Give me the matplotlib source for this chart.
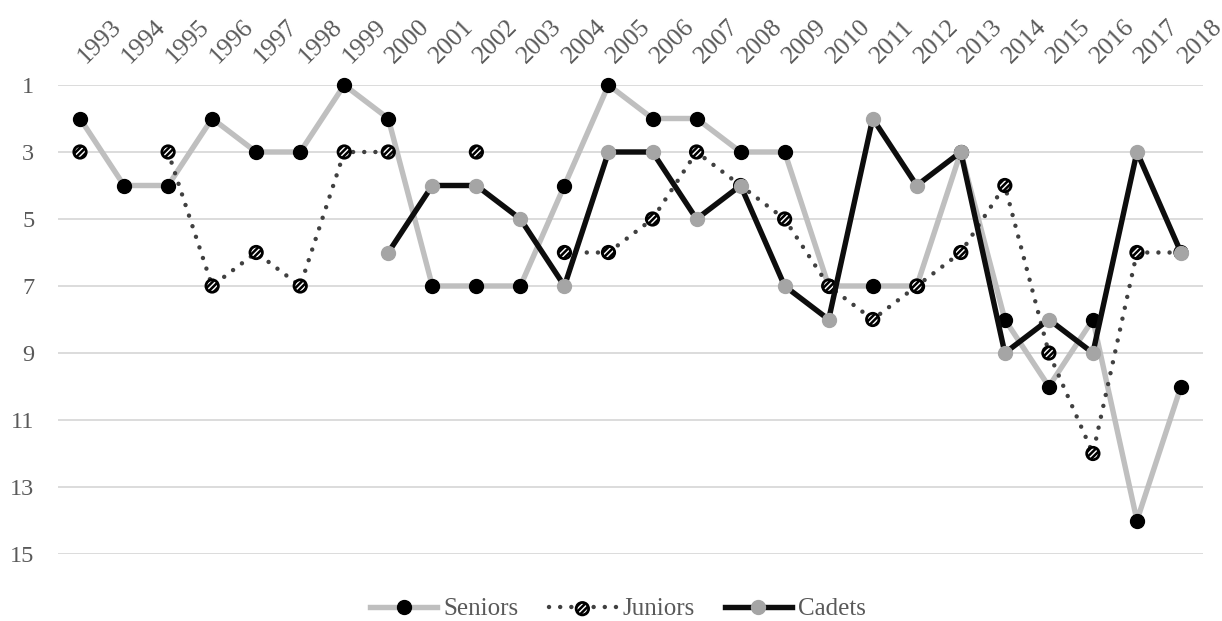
import numpy as np
from matplotlib import pyplot as plt
from matplotlib.transforms import ScaledTranslation
from matplotlib.legend_handler import HandlerTuple

plt.rcParams['font.family'] = ['Liberation Serif', 'DejaVu Serif']
plt.rcParams['hatch.color'] = 'black'
plt.rcParams['hatch.linewidth'] = 1.8

nan = np.nan
years = list(range(1993, 2019))
seniors = [2, 4, 4, 2, 3, 3, 1, 2, 7, 7, 7, 4, 1, 2, 2, 3, 3, 7, 7, 7, 3, 8, 10, 8, 14, 10]
juniors = [3, nan, 3, 7, 6, 7, 3, 3, nan, 3, nan, 6, 6, 5, 3, 4, 5, 7, 8, 7, 6, 4, 9, 12, 6, 6]
cadets = [nan] * 7 + [6, 4, 4, 5, 7, 3, 3, 5, 4, 7, 8, 2, 4, 3, 9, 8, 9, 3, 6]
yticks = [1, 3, 5, 7, 9, 11, 13, 15]


def main():
    x = np.arange(len(years))

    fig = plt.figure(figsize=(12.22, 6.21), dpi=100)
    ax = fig.add_axes([58 / 1222, 1 - 554 / 621, (1203 - 58) / 1222, (554 - 85) / 621])

    ln_sen, = ax.plot(x, seniors, color='#BFBFBF', lw=3.9, marker='o', ms=10,
                      mfc='black', mec='black', clip_on=False, zorder=3)
    ln_jun, = ax.plot(x, juniors, color='#404040', lw=3.2, linestyle=(0, (0.01, 2.5)),
                      dash_capstyle='round', clip_on=False, zorder=4)
    sc_jun = ax.scatter(x, juniors, s=80, facecolor='white', edgecolor='black',
                        hatch='//////', linewidths=2.0, clip_on=False, zorder=5)
    ln_cad, = ax.plot(x, cadets, color='#0D0D0D', lw=3.9, marker='o', ms=10,
                      mfc='#A5A5A5', mec='#A5A5A5', clip_on=False, zorder=6)

    ax.set_xlim(-0.5, len(years) - 0.5)
    ax.set_ylim(15, 1)
    ax.set_yticks(yticks)
    ax.set_xticks([])
    ax.grid(axis='y', color='#D9D9D9', lw=1.3)
    ax.set_axisbelow(True)
    for s in ax.spines.values():
        s.set_visible(False)
    ax.tick_params(axis='y', length=0, pad=17, labelsize=17.5, labelcolor='#595959')

    # year labels along the top, rotated 45 degrees
    trans = ax.get_xaxis_transform() + ScaledTranslation(0.095, 0.17, fig.dpi_scale_trans)
    for xi, yr in zip(x, years):
        ax.text(xi, 1.0, str(yr), transform=trans, rotation=45, rotation_mode='anchor',
                ha='left', va='bottom', fontsize=18.5, color='#595959')

    fig.legend([ln_sen, (ln_jun, sc_jun), ln_cad], ['Seniors', 'Juniors', 'Cadets'],
               handler_map={tuple: HandlerTuple(ndivide=1)},
               loc='center', bbox_to_anchor=(618 / 1222, 1 - 609 / 621), ncol=3,
               frameon=False, fontsize=18, labelcolor='#595959', handlelength=2.7,
               handletextpad=0.25, columnspacing=1.2, borderaxespad=0)

    fig.savefig('out.png', dpi=100)


if __name__ == "__main__":
    main()
